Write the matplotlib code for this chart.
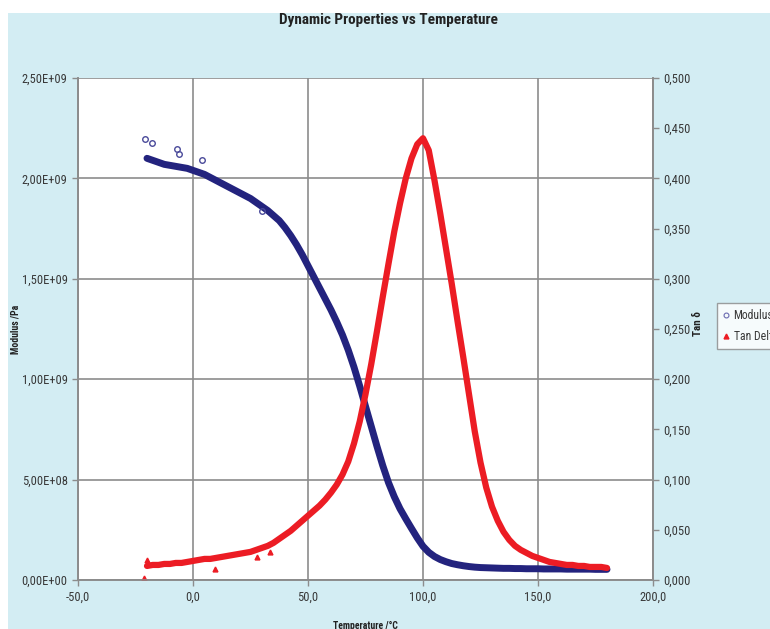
import matplotlib.pyplot as plt
from matplotlib import font_manager
from matplotlib.ticker import FuncFormatter, MultipleLocator
from matplotlib.lines import Line2D
import matplotlib.patches as mpatches

names = {f.name for f in font_manager.fontManager.ttflist}
narrow = [n for n in ['Liberation Sans Narrow', 'Arial Narrow', 'Roboto Condensed',
                      'Open Sans Condensed', 'DejaVu Sans Condensed'] if n in names]
plt.rcParams['font.family'] = narrow + ['Roboto', 'DejaVu Sans']
if not narrow:
    plt.rcParams['font.stretch'] = 'condensed'

# temperature grid (deg C)
temp = [-20, -17.5, -15, -12.5, -10, -7.5, -5, -2.5, 0, 2.5, 5, 7.5, 10, 12.5, 15, 17.5,
        20, 22.5, 25, 27.5, 30, 32.5, 35, 37.5, 40, 42.5, 45, 47.5, 50, 52.5, 55, 57.5,
        60, 62.5, 65, 67.5, 70, 72.5, 75, 77.5, 80, 82.5, 85, 87.5, 90, 92.5, 95, 97.5,
        100, 102.5, 105, 107.5, 110, 112.5, 115, 117.5, 120, 122.5, 125, 127.5, 130,
        132.5, 135, 137.5, 140, 142.5, 145, 147.5, 150, 152.5, 155, 157.5, 160, 162.5,
        165, 167.5, 170, 172.5, 175, 177.5, 180]

# storage modulus, units of 1e9 Pa
modulus = [2.10, 2.09, 2.08, 2.07, 2.065, 2.06, 2.055, 2.05, 2.04, 2.03, 2.02, 2.005,
           1.99, 1.975, 1.96, 1.945, 1.93, 1.915, 1.90, 1.88, 1.86, 1.84, 1.815, 1.79,
           1.755, 1.715, 1.67, 1.62, 1.565, 1.51, 1.455, 1.40, 1.345, 1.285, 1.22, 1.145,
           1.06, 0.965, 0.865, 0.765, 0.665, 0.57, 0.485, 0.415, 0.355, 0.305, 0.257, 0.21,
           0.168, 0.138, 0.117, 0.102, 0.091, 0.082, 0.076, 0.071, 0.067, 0.064, 0.062,
           0.061, 0.06, 0.059, 0.058, 0.058, 0.057, 0.057, 0.056, 0.056, 0.056, 0.055,
           0.055, 0.055, 0.055, 0.054, 0.054, 0.054, 0.054, 0.054, 0.053, 0.053, 0.053]

tan_delta = [0.014, 0.015, 0.015, 0.016, 0.016, 0.017, 0.017, 0.018, 0.019, 0.020, 0.021,
             0.021, 0.022, 0.023, 0.024, 0.025, 0.026, 0.027, 0.028, 0.030, 0.032, 0.034,
             0.037, 0.041, 0.045, 0.049, 0.054, 0.059, 0.064, 0.069, 0.074, 0.080, 0.087,
             0.095, 0.105, 0.118, 0.136, 0.158, 0.185, 0.215, 0.248, 0.282, 0.315, 0.347,
             0.375, 0.40, 0.42, 0.434, 0.44, 0.428, 0.398, 0.365, 0.33, 0.295, 0.258,
             0.222, 0.185, 0.148, 0.117, 0.092, 0.073, 0.059, 0.048, 0.040, 0.034, 0.030,
             0.027, 0.024, 0.022, 0.020, 0.018, 0.017, 0.016, 0.015, 0.015, 0.014, 0.014,
             0.013, 0.013, 0.013, 0.012]

# a few stray points
mod_out_t = [-21, -18, -7, -6, 4, 30]
mod_out = [2.195, 2.175, 2.145, 2.12, 2.09, 1.84]
tan_out_t = [-21.5, -20, 9.6, 28, 33.5]
tan_out = [0.002, 0.02, 0.011, 0.023, 0.028]

navy = '#23237e'
red = '#ec1c24'
bg = '#d3edf3'
grid_c = '#8c8c8c'
txt = '#383838'

fig = plt.figure(figsize=(7.7, 6.29), dpi=100)
fig.patch.set_facecolor('white')
fig.patches.append(mpatches.Rectangle((8 / 770, 0), 1, 1 - 13 / 629, transform=fig.transFigure,
                                      facecolor=bg, edgecolor='none', zorder=-10))

ax = fig.add_axes([78 / 770, (629 - 580) / 629, (653 - 78) / 770, 502 / 629])
ax.set_facecolor('white')
ax2 = ax.twinx()
ax2.patch.set_visible(False)

mod_pa = [m * 1e9 for m in modulus]
ax.plot(temp, mod_pa, color=navy, lw=5, solid_capstyle='round', solid_joinstyle='round',
        zorder=3)
ax.plot(mod_out_t, [m * 1e9 for m in mod_out], 'o', ms=4, mfc='none', mec='#4a4a9a', mew=1,
        zorder=3)
ax2.plot(temp, tan_delta, color=red, lw=4.5, solid_capstyle='round', solid_joinstyle='round',
         zorder=2)
ax2.plot(tan_out_t, tan_out, '^', ms=3.5, color=red, zorder=2)

ax.set_xlim(-50, 200)
ax.set_ylim(0, 2.5e9)
ax2.set_ylim(0, 0.5)
ax.xaxis.set_major_locator(MultipleLocator(50))
ax.yaxis.set_major_locator(MultipleLocator(5e8))
ax2.yaxis.set_major_locator(MultipleLocator(0.05))

ax.xaxis.set_major_formatter(FuncFormatter(lambda v, p: f'{v:.1f}'.replace('.', ',')))
ax.yaxis.set_major_formatter(FuncFormatter(lambda v, p: f'{v:.2E}'.replace('.', ',')))
ax2.yaxis.set_major_formatter(FuncFormatter(lambda v, p: f'{v:.3f}'.replace('.', ',')))

ax.grid(True, color=grid_c, lw=1.2)
ax.set_axisbelow(True)
for a in (ax, ax2):
    for s in a.spines.values():
        s.set_color(grid_c)
        s.set_linewidth(1.2)
    a.tick_params(colors=grid_c, labelcolor=txt, labelsize=9, length=4, width=1)
ax.spines['top'].set_visible(False)
ax2.spines['top'].set_visible(False)
ax.tick_params(axis='x', pad=4)

ax.set_ylabel('Modulus /Pa', fontsize=7, fontweight='bold', color='#222222')
ax.yaxis.set_label_coords(-0.1, 0.5)
ax2.set_ylabel('Tan δ', fontsize=8, fontweight='bold', color='#222222')
ax2.yaxis.set_label_coords(1.07, 0.51)
ax.set_xlabel('Temperature /°C', fontsize=7, fontweight='bold', color='#222222')
ax.xaxis.set_label_coords(0.5, -0.082)

fig.text(0.505, 1 - 20 / 629, 'Dynamic Properties vs Temperature', ha='center', va='center',
         fontsize=11, fontweight='bold', color='#222222')

handles = [Line2D([], [], ls='none', marker='o', ms=3.5, mfc='none', mec='#6a6ab0', mew=0.8),
           Line2D([], [], ls='none', marker='^', ms=3.5, color=red)]
leg = fig.legend(handles, ['Modulus', 'Tan Delta'], loc='upper left',
                 bbox_to_anchor=(717 / 770, 1 - 303 / 629), fontsize=8.5, frameon=True,
                 fancybox=False, handlelength=0.6, handletextpad=0.3, borderpad=0.5,
                 labelspacing=0.7, borderaxespad=0)
leg.get_frame().set_edgecolor('#888888')
leg.get_frame().set_facecolor('white')
for t in leg.get_texts():
    t.set_color(txt)

fig.savefig('out.png', dpi=100, facecolor=fig.get_facecolor())
